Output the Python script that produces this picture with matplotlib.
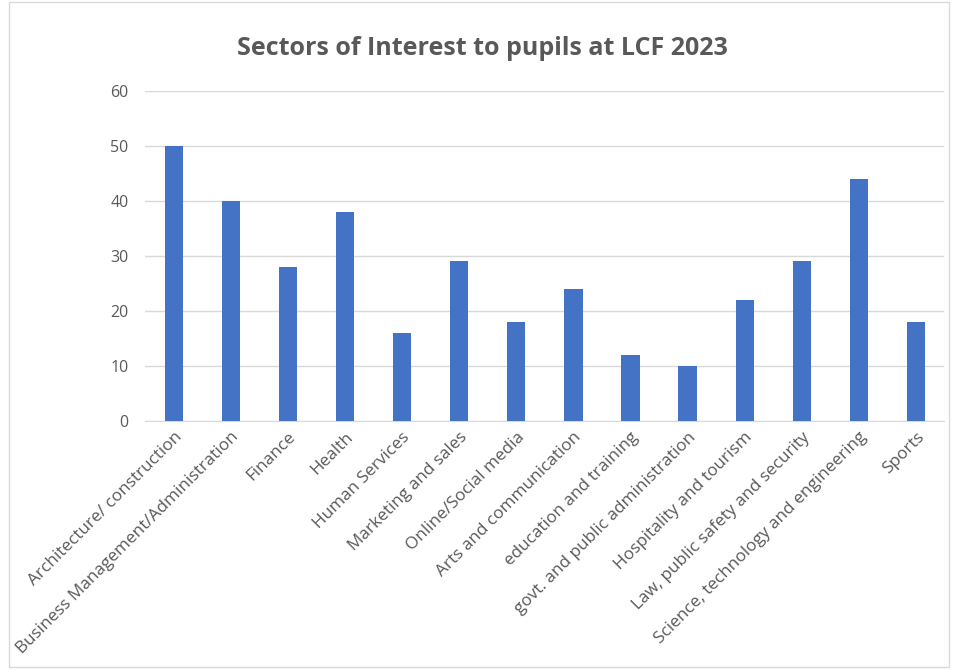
import matplotlib.pyplot as plt
from matplotlib.patches import Rectangle

# data
sectores = ['Architecture/ construction', 'Business Management/Administration', 'Finance',
            'Health', 'Human Services', 'Marketing and sales', 'Online/Social media',
            'Arts and communication', 'education and training', 'govt. and public administration',
            'Hospitality and tourism', 'Law, public safety and security',
            'Science, technology and engineering', 'Sports']
alumnos = [50, 40, 28, 38, 16, 29, 18, 24, 12, 10, 22, 29, 44, 18]
yticks = [0, 10, 20, 30, 40, 50, 60]

gris = '#595959'
plt.rcParams['font.family'] = ['Open Sans', 'DejaVu Sans']

fig = plt.figure(figsize=(9.55, 6.7), dpi=100)
ax = fig.add_axes([0.152, 0.372, 0.837, 0.492])

# borde del grafico
fig.patches.append(Rectangle((0.009, 0.004), 0.985, 0.993, transform=fig.transFigure,
                             fill=False, edgecolor='#D9D9D9', linewidth=1))

ax.bar(range(len(sectores)), alumnos, width=0.32, color='#4472C4', zorder=3)

ax.set_xlim(-0.5, len(sectores) - 0.5)
ax.set_ylim(0, 60)
ax.set_yticks(yticks)
ax.grid(axis='y', color='#D9D9D9', linewidth=1, zorder=0)
for lado in ['top', 'right', 'left']:
    ax.spines[lado].set_visible(False)
ax.spines['bottom'].set_color('#D9D9D9')
ax.tick_params(axis='both', length=0, colors=gris)
ax.tick_params(axis='y', pad=12, labelsize=11.5)
ax.tick_params(axis='x', pad=6, labelsize=12.3)
ax.set_xticks(range(len(sectores)))
ax.set_xticklabels(sectores, rotation=45, ha='right', rotation_mode='anchor')

fig.text(0.505, 0.928, 'Sectors of Interest to pupils at LCF 2023', ha='center', va='center',
         fontsize=18, fontweight='bold', color=gris)

fig.savefig('out.png', dpi=100)
